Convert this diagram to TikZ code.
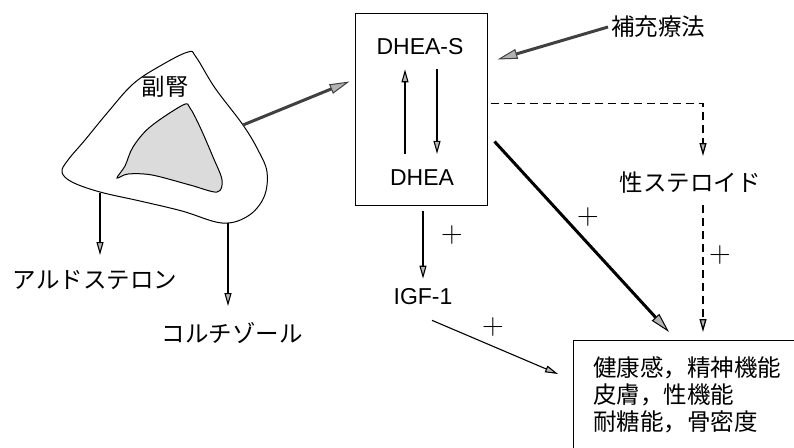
\documentclass[tikz,border=0pt]{standalone}
\usepackage{fontspec}
\setmainfont{Liberation Sans}
\newfontfamily\jp{Noto Sans CJK JP}
\usetikzlibrary{arrows.meta,calc}

\tikzset{
  lat/.style={font=\fontsize{23}{26}\selectfont, inner sep=3pt},
  jtext/.style={font=\jp\fontsize{23.5}{27}\selectfont, inner sep=3pt},
  plus/.style={font=\fontfamily{lmr}\fontsize{30}{30}\selectfont, inner sep=0pt},
  frame/.style={draw, line width=1pt},
  thinarr/.style={line width=1.1pt, -{Triangle[length=13pt,width=7pt,fill=gray!55]}},
  thickarr/.style={line width=3pt, -{Triangle[length=20pt,width=10pt,fill=gray!60,line width=1pt]}},
  dasharr/.style={line width=1.3pt, dash pattern=on 8pt off 5pt, -{Triangle[length=13pt,width=7pt,fill=gray!55]}},
}

\begin{document}
\begin{tikzpicture}[x=1pt, y=-1pt]
  \useasboundingbox (0,0) rectangle (794,447);
  \clip (0,0) rectangle (794,447);

  % adrenal gland: outer outline and shaded core
  \draw[line width=1pt] plot[smooth cycle, tension=0.6] coordinates {
    (188,52) (160,66) (133,84) (108,112) (85,140) (68,160) (62,172) (72,182)
    (100,192) (140,201) (182,211) (222,223) (248,216) (264,197) (267,172)
    (258,150) (243,125) (215,88) (196,57)};
  \draw[line width=1pt, fill=gray!28] plot[smooth cycle, tension=0.55] coordinates {
    (183,105) (150,127) (133,147) (125,166) (117,178) (128,174) (152,175)
    (190,185) (217,192) (222,180) (213,157) (200,127) (190,108)};
  \node[jtext] (adrenal) at (165,87) {副腎};

  % DHEA box
  \node[frame, minimum width=132pt, minimum height=192pt] (box) at (421,109) {};
  \node[lat] (dheas) at (420,47) {DHEA-S};
  \node[lat] (dhea) at (422,178) {DHEA};
  \draw[thinarr] ([xshift=-17pt, yshift=13pt]dhea.north) -- ([xshift=-15pt, yshift=-11pt]dheas.south);
  \draw[thinarr] ([xshift=17pt, yshift=-11pt]dheas.south) -- ([xshift=15pt, yshift=13pt]dhea.north);

  % inputs to the box
  \coordinate (adrout) at (243,125);
  \draw[thickarr, draw=black!75] (adrout) -- ($(box.north west)+(-5,69)$);
  \node[jtext, anchor=west] (hoju) at (608,27) {補充療法};
  \draw[thickarr, draw=black!75] (hoju.west) -- ($(box.north east)+(10,47)$);

  % adrenal products
  \node[jtext] (aldo) at (95,280) {アルドステロン};
  \node[jtext] (cort) at (232,333) {コルチゾール};
  \coordinate (aldostart) at (100,193);
  \coordinate (cortstart) at (228,223);
  \draw[thinarr] (aldostart) -- (aldostart |- 0,255);
  \draw[thinarr] (cortstart) -- (cortstart |- 0,306);

  % effects
  \node[frame, anchor=north west, minimum width=260pt, minimum height=140pt] (res) at (573,340) {};
  \node[jtext, anchor=north west, align=left, inner sep=0pt] (restext) at ($(res.north west)+(20,16)$)
    {健康感，精神機能\\皮膚，性機能\\耐糖能，骨密度};

  \node[jtext] (ster) at (690,183) {性ステロイド};
  \node[lat] (igf) at (423,297) {IGF-1};

  \draw[dasharr] ($(box.north east)+(3,91)$) -| ([xshift=13pt, yshift=13pt]ster.north);
  \draw[dasharr] ([xshift=13pt, yshift=-8pt]ster.south) -- ($(res.north west)+(130,-8)$);
  \draw[thickarr, draw=black] ($(box.north east)+(7,129)$) -- ($(res.north west)+(96,-8)$);
  \draw[thinarr] (box.south -| igf) ++(0,5) -- ([yshift=7pt]igf.north);
  \draw[thinarr] ($(igf.south)+(9,12)$) -- ($(res.north west)+(-15,34)$);

  % stimulation marks
  \node[plus] (p1) at (452,235) {+};
  \node[plus] (p2) at (588,217) {+};
  \node[plus] (p3) at (720,255) {+};
  \node[plus] (p4) at (493,327) {+};
\end{tikzpicture}
\end{document}
